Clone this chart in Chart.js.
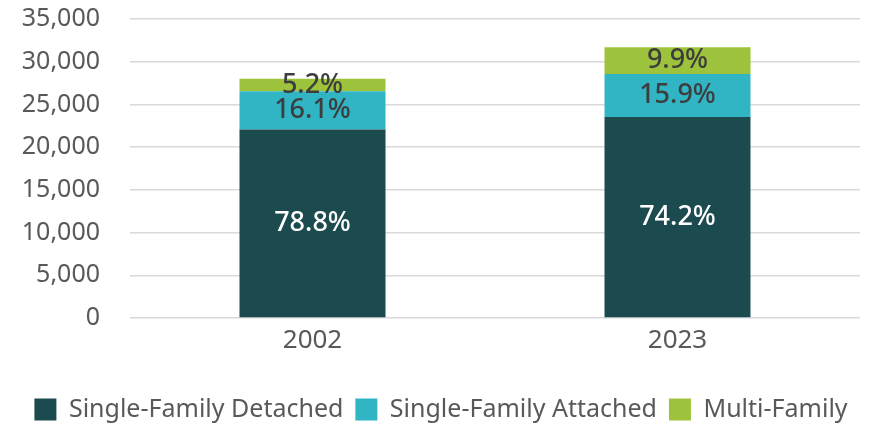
<!DOCTYPE html>
<html>
<head>
<meta charset="utf-8">
<script src="https://cdn.jsdelivr.net/npm/chart.js@4"></script>
<style>
  html, body { margin: 0; padding: 0; background: #fff; }
  #wrap { width: 871px; height: 424px; }
</style>
</head>
<body>
<div id="wrap"><canvas id="housingChart"></canvas></div>
<script>
const years = ['2002', '2023'];
const detached = [22055, 23520];
const attached = [4496, 5040];
const multiFamily = [1449, 3140];
const yTicks = [0, 5000, 10000, 15000, 20000, 25000, 30000, 35000];

const seriesNames = ['Single-Family Detached', 'Single-Family Attached', 'Multi-Family'];
const seriesColors = ['#1b4a4f', '#31b5c4', '#9cc33b'];
const labelColors = ['#ffffff', '#3d3d3d', '#3d3d3d'];

function totalFor(i) {
    return detached[i] + attached[i] + multiFamily[i];
}

// draws the share of each segment in the middle of it
const shareLabels = {
    id: 'shareLabels',
    afterDatasetsDraw(chart) {
        const ctx = chart.ctx;
        ctx.save();
        ctx.font = '500 27px "Noto Sans"';
        ctx.textAlign = 'center';
        ctx.textBaseline = 'middle';
        chart.data.datasets.forEach((ds, d) => {
            const meta = chart.getDatasetMeta(d);
            meta.data.forEach((bar, i) => {
                const pct = (ds.data[i] / totalFor(i) * 100).toFixed(1) + '%';
                ctx.fillStyle = labelColors[d];
                ctx.fillText(pct, bar.x, (bar.y + bar.base) / 2);
            });
        });
        ctx.restore();
    }
};

new Chart(document.getElementById('housingChart'), {
    type: 'bar',
    data: {
        labels: years,
        datasets: [
            { label: seriesNames[0], data: detached, backgroundColor: seriesColors[0] },
            { label: seriesNames[1], data: attached, backgroundColor: seriesColors[1] },
            { label: seriesNames[2], data: multiFamily, backgroundColor: seriesColors[2] }
        ]
    },
    options: {
        responsive: true,
        maintainAspectRatio: false,
        animation: false,
        layout: { padding: { top: 19, right: 11, left: 22, bottom: -8 } },
        datasets: { bar: { categoryPercentage: 1, barPercentage: 0.4 } },
        scales: {
            x: {
                stacked: true,
                grid: { display: false, drawTicks: false, tickLength: 0 },
                border: { display: false },
                ticks: { color: '#595959', font: { family: 'Noto Sans', size: 26 }, padding: 7 },
                afterFit(axis) { axis.height = 67; }
            },
            y: {
                stacked: true,
                min: 0,
                max: 35000,
                afterBuildTicks(axis) {
                    axis.ticks = yTicks.map(v => ({ value: v }));
                },
                afterFit(axis) { axis.width = 108; },
                grid: { color: '#d9d9d9', lineWidth: 1.5, tickLength: 30, tickColor: 'rgba(0,0,0,0)' },
                border: { display: false },
                ticks: {
                    color: '#595959',
                    font: { family: 'Noto Sans', size: 25 },
                    padding: 0,
                    callback: v => v.toLocaleString('en-US')
                }
            }
        },
        plugins: {
            legend: {
                position: 'bottom',
                labels: {
                    color: '#595959',
                    font: { family: 'Noto Sans', size: 25 },
                    boxWidth: 22,
                    boxHeight: 22,
                    padding: 12
                }
            },
            tooltip: { enabled: false }
        }
    },
    plugins: [shareLabels]
});
</script>
</body>
</html>
